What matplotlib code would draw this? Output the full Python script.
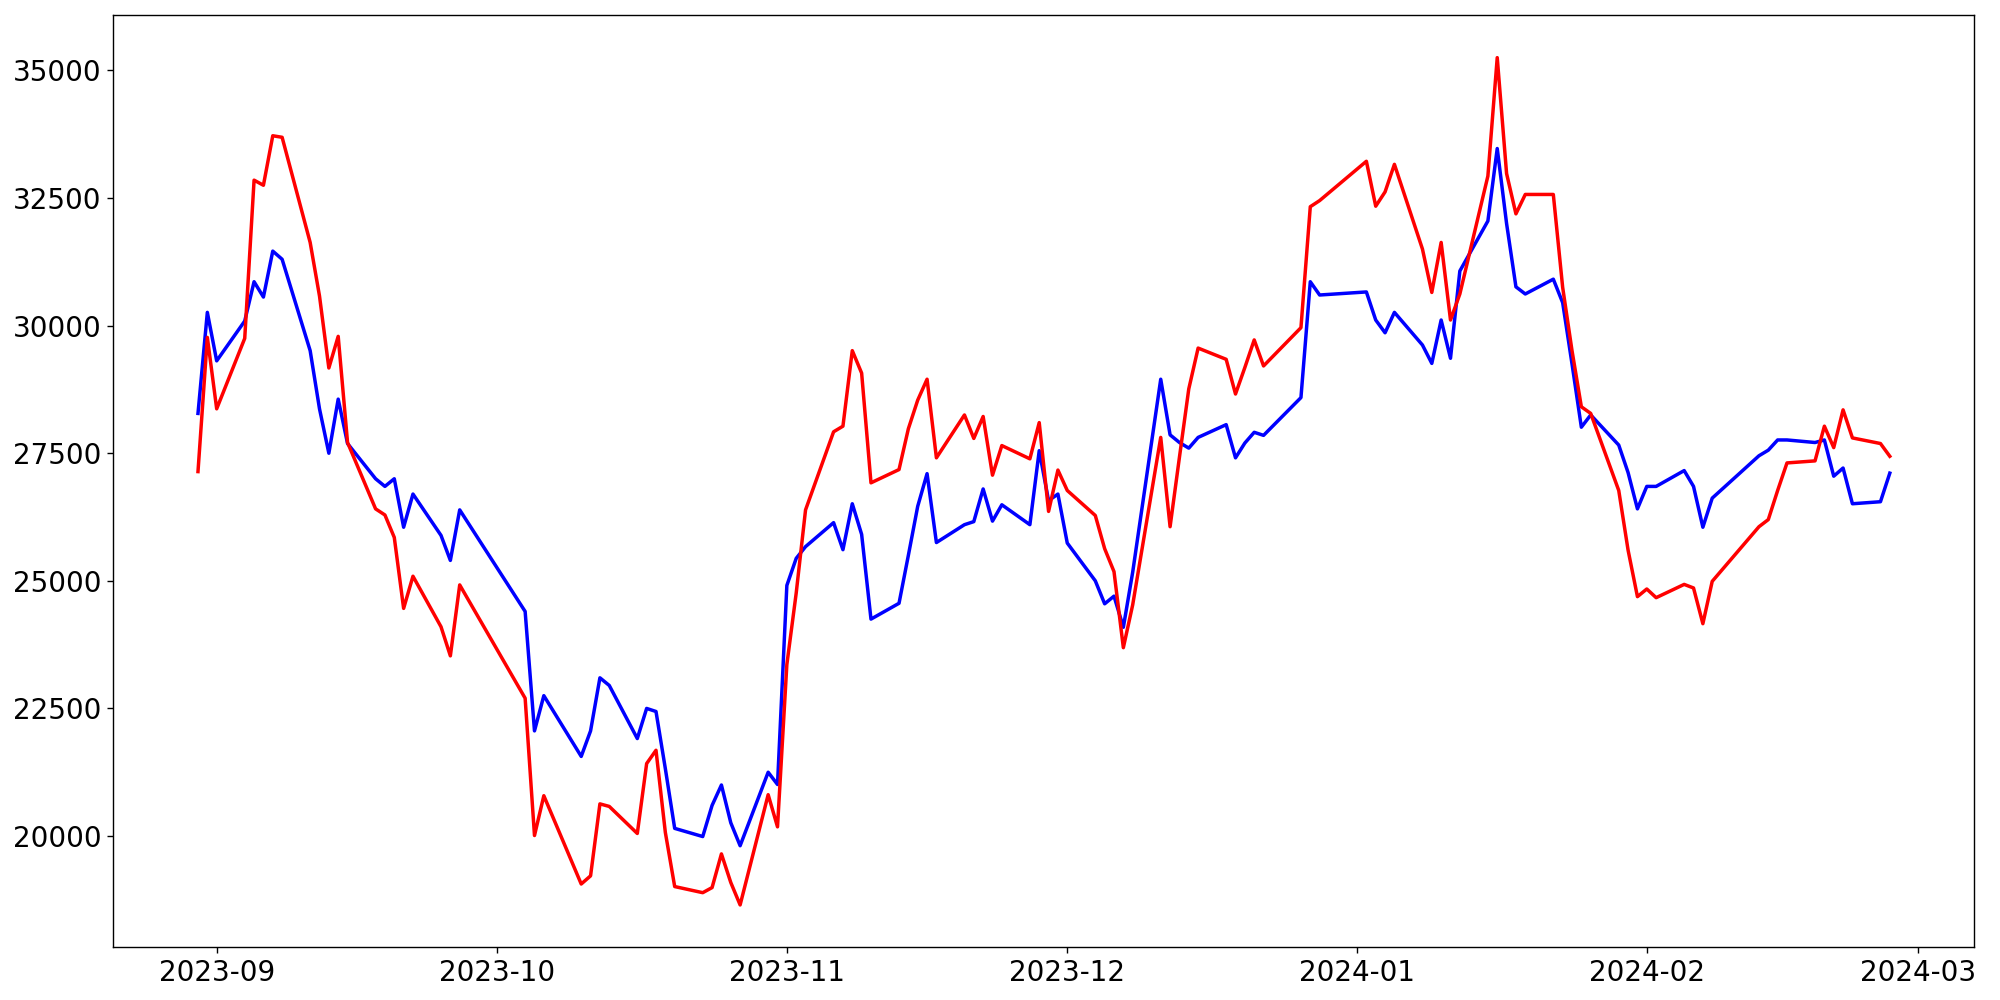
import pandas as pd
import matplotlib
matplotlib.use("Agg")
import matplotlib.pyplot as plt
import matplotlib.dates as mdates

# trading days (KRX calendar), 2023-08-30 .. 2024-02-27
dates = [
    "2023-08-30", "2023-08-31", "2023-09-01", "2023-09-04", "2023-09-05", "2023-09-06",
    "2023-09-07", "2023-09-08", "2023-09-11", "2023-09-12", "2023-09-13", "2023-09-14",
    "2023-09-15", "2023-09-18", "2023-09-19", "2023-09-20", "2023-09-21", "2023-09-22",
    "2023-09-25", "2023-09-26", "2023-09-27", "2023-10-04", "2023-10-05", "2023-10-06",
    "2023-10-10", "2023-10-11", "2023-10-12", "2023-10-13", "2023-10-16", "2023-10-17",
    "2023-10-18", "2023-10-19", "2023-10-20", "2023-10-23", "2023-10-24", "2023-10-25",
    "2023-10-26", "2023-10-27", "2023-10-30", "2023-10-31", "2023-11-01", "2023-11-02",
    "2023-11-03", "2023-11-06", "2023-11-07", "2023-11-08", "2023-11-09", "2023-11-10",
    "2023-11-13", "2023-11-14", "2023-11-15", "2023-11-16", "2023-11-17", "2023-11-20",
    "2023-11-21", "2023-11-22", "2023-11-23", "2023-11-24", "2023-11-27", "2023-11-28",
    "2023-11-29", "2023-11-30", "2023-12-01", "2023-12-04", "2023-12-05", "2023-12-06",
    "2023-12-07", "2023-12-08", "2023-12-11", "2023-12-12", "2023-12-13", "2023-12-14",
    "2023-12-15", "2023-12-18", "2023-12-19", "2023-12-20", "2023-12-21", "2023-12-22",
    "2023-12-26", "2023-12-27", "2023-12-28", "2024-01-02", "2024-01-03", "2024-01-04",
    "2024-01-05", "2024-01-08", "2024-01-09", "2024-01-10", "2024-01-11", "2024-01-12",
    "2024-01-15", "2024-01-16", "2024-01-17", "2024-01-18", "2024-01-19", "2024-01-22",
    "2024-01-23", "2024-01-24", "2024-01-25", "2024-01-26", "2024-01-29", "2024-01-30",
    "2024-01-31", "2024-02-01", "2024-02-02", "2024-02-05", "2024-02-06", "2024-02-07",
    "2024-02-08", "2024-02-13", "2024-02-14", "2024-02-15", "2024-02-16", "2024-02-19",
    "2024-02-20", "2024-02-21", "2024-02-22", "2024-02-23", "2024-02-26", "2024-02-27",
]

blue_vals = [
    28280, 30260, 29310, 30090, 30860, 30560, 31460, 31300, 29510, 28370, 27500, 28560,
    27690, 27000, 26850, 27000, 26050, 26700, 25890, 25400, 26390, 24400, 22060, 22750,
    21560, 22060, 23100, 22950, 21910, 22500, 22440, 21320, 20150, 19990, 20600, 21000,
    20260, 19810, 21250, 21010, 24910, 25440, 25670, 26140, 25610, 26510, 25910, 24250,
    24560, 25500, 26460, 27100, 25750, 26100, 26160, 26800, 26170, 26490, 26100, 27550,
    26570, 26700, 25740, 25000, 24550, 24700, 24090, 25170, 28950, 27860, 27710, 27600,
    27810, 28060, 27410, 27700, 27910, 27850, 28590, 30860, 30600, 30660, 30110, 29860,
    30260, 29620, 29260, 30110, 29360, 31070, 32050, 33470, 32000, 30760, 30620, 30910,
    30450, 29250, 28010, 28250, 27660, 27120, 26410, 26850, 26850, 27160, 26850, 26050,
    26620, 27450, 27560, 27760, 27760, 27710, 27760, 27050, 27210, 26510, 26550, 27110,
]

red_vals = [
    27140, 29770, 28370, 29750, 32850, 32750, 33720, 33690, 31630, 30580, 29170, 29790,
    27710, 26410, 26290, 25850, 24460, 25090, 24100, 23530, 24920, 22700, 20010, 20790,
    19060, 19220, 20630, 20580, 20050, 21420, 21680, 20070, 19010, 18890, 18990, 19650,
    19090, 18650, 20810, 20180, 23360, 24760, 26390, 27920, 28030, 29510, 29070, 26920,
    27180, 27980, 28540, 28950, 27410, 28250, 27790, 28220, 27070, 27650, 27390, 28100,
    26360, 27170, 26770, 26280, 25630, 25180, 23690, 24530, 27810, 26060, 27420, 28760,
    29560, 29340, 28660, 29180, 29720, 29210, 29960, 32330, 32450, 33220, 32340, 32620,
    33160, 31500, 30650, 31630, 30110, 30620, 32930, 35250, 32980, 32190, 32570, 32570,
    30750, 29510, 28410, 28280, 26770, 25600, 24690, 24840, 24670, 24930, 24860, 24160,
    24990, 26060, 26200, 26770, 27310, 27350, 28030, 27610, 28350, 27800, 27690, 27440,
]

x = pd.to_datetime(dates)

fig = plt.figure(figsize=(16, 8), dpi=125)
ax = fig.add_subplot(111)
fig.subplots_adjust(left=0.0567, right=0.9872, bottom=0.0527, top=0.9847)

ax.plot(x, blue_vals, color='blue', linewidth=2)
ax.plot(x, red_vals, color='red', linewidth=2)

ax.xaxis.set_major_locator(mdates.MonthLocator())
ax.xaxis.set_major_formatter(mdates.DateFormatter('%Y-%m'))
ax.tick_params(labelsize=16)

fig.savefig('out.png', dpi=125)
